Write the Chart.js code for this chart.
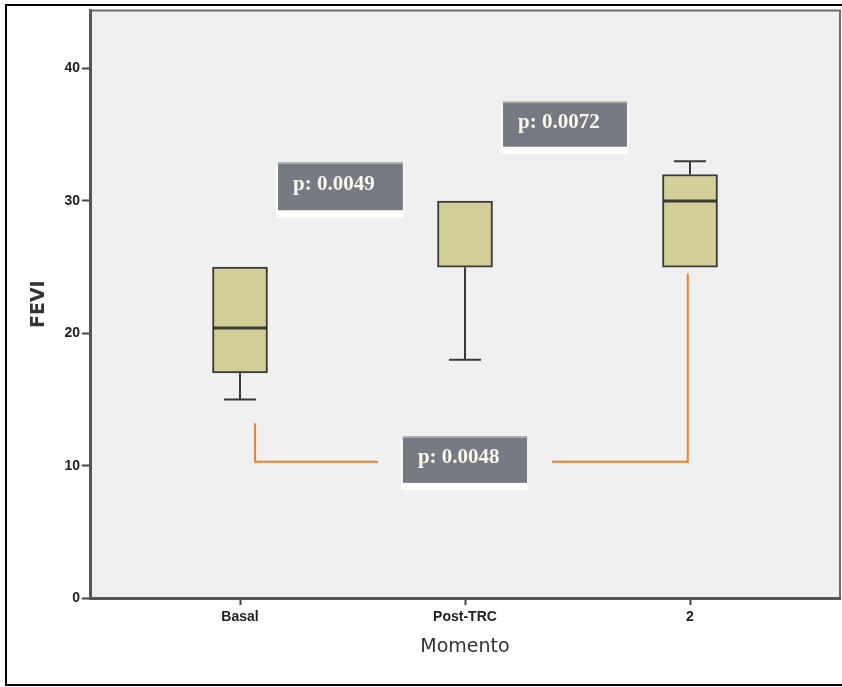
<!DOCTYPE html>
<html>
<head>
<meta charset="utf-8">
<script src="https://cdn.jsdelivr.net/npm/chart.js@4.4.1/dist/chart.umd.min.js"></script>
<style>
  html, body { margin: 0; padding: 0; background: #fff; }
  #wrap { width: 842px; height: 687px; position: relative; }
</style>
</head>
<body>
<div id="wrap"><canvas id="boxChart"></canvas></div>
<script>
const categories = ["Basal", "Post-TRC", "2"];
const q1 = [17, 25, 25];
const median = [20.4, 30, 30];
const q3 = [25, 30, 32];
const whiskerLow = [15, 18, 25];
const whiskerHigh = [25, 30, 33];
const yTicks = [0, 10, 20, 30, 40];
const pLabels = ["p: 0.0049", "p: 0.0072", "p: 0.0048"];

// annotation layout, in data units
const pBoxes = [
  { text: pLabels[0], x0: 0.169, x1: 0.724, yTop: 32.9, yBot: 29.3 },
  { text: pLabels[1], x0: 1.169, x1: 1.72, yTop: 37.5, yBot: 34.1 },
  { text: pLabels[2], x0: 0.724, x1: 1.276, yTop: 12.2, yBot: 8.7 }
];
const connectors = [
  [[0.067, 13.2], [0.067, 10.3], [0.613, 10.3]],
  [[1.387, 10.3], [1.99, 10.3], [1.99, 24.5]]
];

const BOX_W = 55;
const CAP_W = 32;

const boxPlugin = {
  id: "boxExtras",
  beforeDraw(chart) {
    const { ctx, chartArea: a } = chart;
    ctx.save();
    ctx.fillStyle = "#f0f0f0";
    ctx.fillRect(a.left, a.top, a.right - a.left, a.bottom - a.top);
    ctx.restore();
  },
  afterDatasetsDraw(chart) {
    const { ctx, scales: { x, y } } = chart;
    ctx.save();
    ctx.strokeStyle = "#3a3a3a";
    categories.forEach((c, i) => {
      const px = x.getPixelForValue(i);
      // median (skip when it sits on the box edge)
      if (median[i] !== q3[i] && median[i] !== q1[i]) {
        ctx.lineWidth = 3;
        ctx.beginPath();
        ctx.moveTo(px - BOX_W / 2 + 1, y.getPixelForValue(median[i]));
        ctx.lineTo(px + BOX_W / 2 - 1, y.getPixelForValue(median[i]));
        ctx.stroke();
      }
      ctx.lineWidth = 2;
      // whiskers
      [[q1[i], whiskerLow[i]], [q3[i], whiskerHigh[i]]].forEach(([from, to]) => {
        if (from === to) return;
        const y0 = y.getPixelForValue(from), y1 = y.getPixelForValue(to);
        ctx.beginPath();
        ctx.moveTo(px, y0);
        ctx.lineTo(px, y1);
        ctx.moveTo(px - CAP_W / 2, y1);
        ctx.lineTo(px + CAP_W / 2, y1);
        ctx.stroke();
      });
    });
    ctx.restore();
  },
  afterDraw(chart) {
    const { ctx, chartArea: a, scales: { x, y } } = chart;
    ctx.save();
    // plot frame top/right
    ctx.strokeStyle = "#6a6a6a";
    ctx.lineWidth = 2;
    ctx.beginPath();
    ctx.moveTo(a.left, a.top);
    ctx.lineTo(a.right, a.top);
    ctx.lineTo(a.right, a.bottom);
    ctx.stroke();

    // orange connectors
    ctx.strokeStyle = "#f07c2c";
    ctx.lineWidth = 2;
    connectors.forEach(pts => {
      ctx.beginPath();
      pts.forEach(([vx, vy], k) => {
        const px = x.getPixelForValue(vx), py = y.getPixelForValue(vy);
        if (k === 0) ctx.moveTo(px, py); else ctx.lineTo(px, py);
      });
      ctx.stroke();
    });

    // p-value boxes
    pBoxes.forEach(b => {
      const l = x.getPixelForValue(b.x0), r = x.getPixelForValue(b.x1);
      const t = y.getPixelForValue(b.yTop), bt = y.getPixelForValue(b.yBot);
      ctx.fillStyle = "#ffffff";
      ctx.fillRect(l - 2, t + 4, r - l + 3, bt - t + 3);
      ctx.fillStyle = "#767a82";
      ctx.fillRect(l, t, r - l, bt - t);
      ctx.fillStyle = "#a6a9ae";
      ctx.fillRect(l, t, r - l, 1.5);
      ctx.fillStyle = "#fbf8ee";
      ctx.font = "bold 21px 'Liberation Serif', 'Times New Roman', serif";
      ctx.textBaseline = "middle";
      ctx.textAlign = "left";
      ctx.fillText(b.text, l + 15, (t + bt) / 2 - 2);
    });

    // outer frame
    ctx.strokeStyle = "#000";
    ctx.lineWidth = 2;
    ctx.beginPath();
    ctx.moveTo(842, 5);
    ctx.lineTo(6, 5);
    ctx.lineTo(6, 685);
    ctx.lineTo(842, 685);
    ctx.stroke();
    ctx.restore();
  }
};

new Chart(document.getElementById("boxChart"), {
  type: "bar",
  data: {
    datasets: [{
      data: categories.map((c, i) => ({ x: i, y: [q1[i], q3[i]] })),
      backgroundColor: "#d4cf98",
      borderColor: "#3a3a3a",
      borderWidth: 2,
      borderSkipped: false,
      barThickness: BOX_W
    }]
  },
  options: {
    responsive: true,
    maintainAspectRatio: false,
    animation: false,
    layout: { padding: { top: 10, right: 2, left: 0, bottom: 0 } },
    plugins: {
      legend: { display: false },
      tooltip: { enabled: false }
    },
    scales: {
      x: {
        type: "linear",
        offset: false,
        min: -2 / 3,
        max: 2 + 2 / 3,
        afterBuildTicks: s => { s.ticks = categories.map((c, i) => ({ value: i })); },
        afterFit: s => { s.height = 89; },
        ticks: {
          callback: v => categories[v],
          color: "#222",
          padding: 4,
          maxRotation: 0,
          autoSkip: false,
          font: { family: "'Liberation Sans', Arial, sans-serif", size: 14, weight: "bold" }
        },
        grid: { offset: false, drawOnChartArea: false, tickLength: 7, tickWidth: 2, color: "#444" },
        border: { color: "#555", width: 3 },
        title: {
          display: true,
          text: "Momento",
          color: "#333",
          padding: { top: 0, bottom: 29 },
          font: { family: "'DejaVu Sans', sans-serif", size: 19 }
        }
      },
      y: {
        min: 0,
        max: 44.4,
        afterBuildTicks: s => { s.ticks = yTicks.map(v => ({ value: v })); },
        afterFit: s => { s.width = 90; },
        ticks: {
          color: "#222",
          padding: 2,
          font: { family: "'Liberation Sans', Arial, sans-serif", size: 14, weight: "bold" }
        },
        grid: { drawOnChartArea: false, tickLength: 8, tickWidth: 2, color: "#444" },
        border: { color: "#555", width: 3 },
        title: {
          display: true,
          text: "FEVI",
          color: "#333",
          padding: { top: 28, bottom: 0 },
          font: { family: "'DejaVu Sans', sans-serif", size: 19, weight: "bold" }
        }
      }
    }
  },
  plugins: [boxPlugin]
});
</script>
</body>
</html>
